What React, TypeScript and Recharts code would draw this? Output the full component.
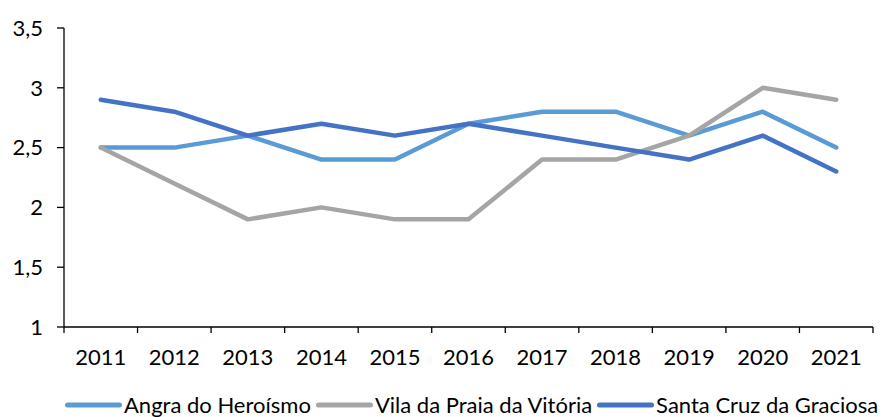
import React from "react";
import { LineChart, Line, XAxis, YAxis, Legend } from "recharts";

const years = ["2011", "2012", "2013", "2014", "2015", "2016", "2017", "2018", "2019", "2020", "2021"];
const angra = [2.5, 2.5, 2.6, 2.4, 2.4, 2.7, 2.8, 2.8, 2.6, 2.8, 2.5];
const vila = [2.5, 2.2, 1.9, 2.0, 1.9, 1.9, 2.4, 2.4, 2.6, 3.0, 2.9];
const santaCruz = [2.9, 2.8, 2.6, 2.7, 2.6, 2.7, 2.6, 2.5, 2.4, 2.6, 2.3];
const yTicks = [1, 1.5, 2, 2.5, 3, 3.5];

const seriesNames = ["Angra do Heroísmo", "Vila da Praia da Vitória", "Santa Cruz da Graciosa"];
const colors = ["#5B9BD5", "#A5A5A5", "#4472C4"];

const data = years.map((y, i) => ({ year: y, a: angra[i], v: vila[i], s: santaCruz[i] }));

const FONT = "Lato, 'Open Sans', sans-serif";
const FS = 22;

const XTick = (props: any) => {
  const { x, y, payload, index, width } = props;
  const bw = width / years.length;
  const left = x - bw / 2;
  return (
    <g>
      <line x1={left} y1={y} x2={left} y2={y + 6} stroke="#000" strokeWidth={1.3} />
      {index === years.length - 1 && (
        <line x1={x + bw / 2} y1={y} x2={x + bw / 2} y2={y + 6} stroke="#000" strokeWidth={1.3} />
      )}
      <text x={x} y={y + 22} dy="0.71em" textAnchor="middle" fill="#000" fontSize={FS} fontFamily={FONT}>
        {payload.value}
      </text>
    </g>
  );
};

const LegendContent = (props: any) => {
  const payload: any[] = props.payload || [];
  const ordered = seriesNames
    .map((n) => payload.find((p: any) => p.value === n))
    .filter(Boolean);
  return (
    <div style={{ display: "flex", justifyContent: "flex-start", paddingLeft: 65, alignItems: "center", fontFamily: FONT, fontSize: FS, color: "#000", lineHeight: "24px", height: 24, whiteSpace: "nowrap" }}>
      {ordered.map((p: any, i: number) => (
        <div key={i} style={{ display: "flex", alignItems: "center", marginRight: 5 }}>
          <svg width={57} height={8} style={{ marginRight: 2 }}>
            <line x1={2.5} y1={4} x2={54.5} y2={4} stroke={p.color} strokeWidth={5} strokeLinecap="round" />
          </svg>
          <span>{p.value}</span>
        </div>
      ))}
    </div>
  );
};

export default function App() {
  return (
    <div style={{ position: "absolute", left: 0, top: 0, background: "#fff" }}>
      <LineChart width={885} height={417} data={data} margin={{ top: 28, right: 12, left: 0, bottom: 14 }}>
        <XAxis
          dataKey="year"
          scale="band"
          tickSize={0}
          tickMargin={0}
          tickLine={false}
          tick={<XTick />}
          stroke="#000"
          strokeWidth={1.3}
          height={52}
          interval={0}
        />
        <YAxis
          domain={[1, 3.5]}
          ticks={yTicks}
          width={64}
          tickSize={7}
          tickMargin={14}
          stroke="#000"
          strokeWidth={1.3}
          tick={{ fill: "#000", fontSize: FS, fontFamily: FONT }}
          tickFormatter={(v: number) => String(v).replace(".", ",")}
          interval={0}
        />
        <Legend verticalAlign="bottom" content={<LegendContent />} wrapperStyle={{ top: 393, left: 0, width: 885, height: 24 }} />
        <Line dataKey="a" name={seriesNames[0]} stroke={colors[0]} strokeWidth={4.5} dot={false} strokeLinecap="round" strokeLinejoin="round" isAnimationActive={false} />
        <Line dataKey="v" name={seriesNames[1]} stroke={colors[1]} strokeWidth={4.5} dot={false} strokeLinecap="round" strokeLinejoin="round" isAnimationActive={false} />
        <Line dataKey="s" name={seriesNames[2]} stroke={colors[2]} strokeWidth={4.5} dot={false} strokeLinecap="round" strokeLinejoin="round" isAnimationActive={false} />
      </LineChart>
    </div>
  );
}
